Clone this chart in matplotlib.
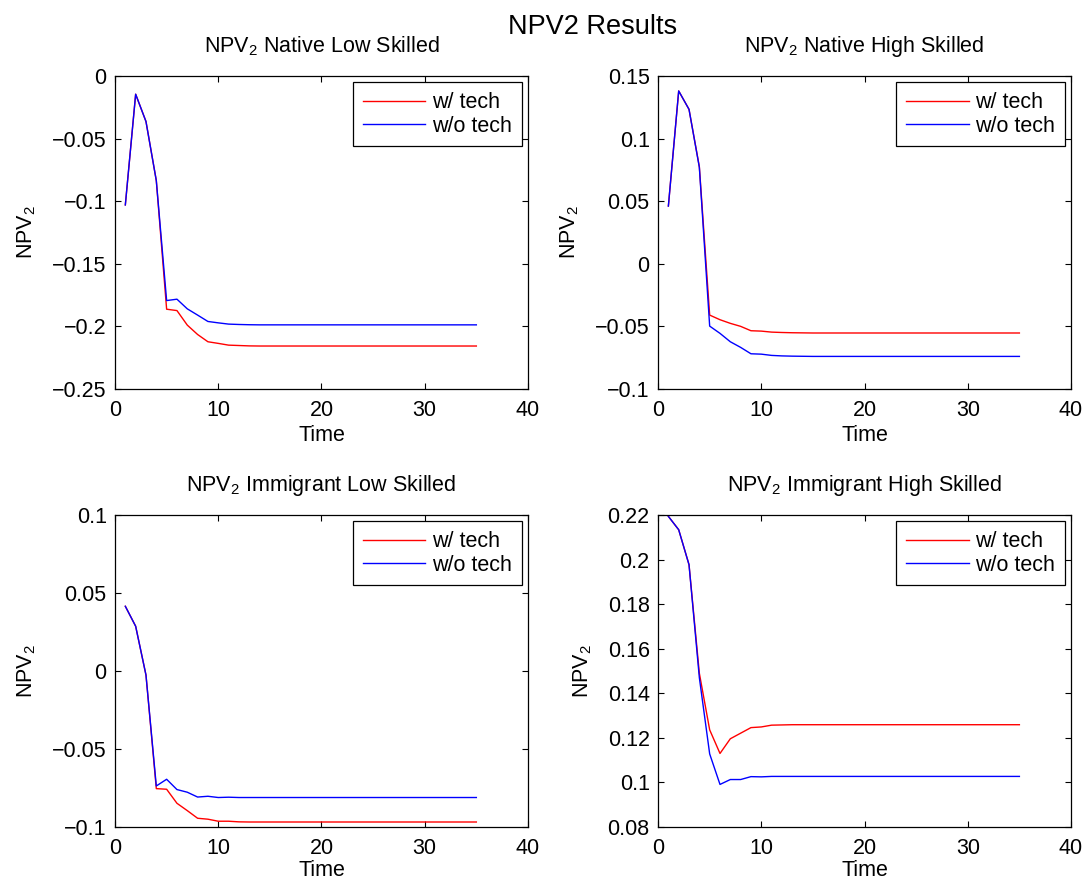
from matplotlib import pyplot as plt
from matplotlib.ticker import FuncFormatter
import numpy as np

plt.rcParams['font.family'] = ['Liberation Sans', 'DejaVu Sans']
plt.rcParams['mathtext.fontset'] = 'custom'
plt.rcParams['mathtext.rm'] = 'Liberation Sans'

time = np.arange(1, 36)

# native low skilled
nls_tech = [-0.1030, -0.0146, -0.0364, -0.0836, -0.1863, -0.1874, -0.1990, -0.2065, -0.2123, -0.2136,
            -0.2150, -0.2153, -0.2156, -0.2157, -0.2157, -0.2157, -0.2157, -0.2157, -0.2157, -0.2157,
            -0.2157, -0.2157, -0.2157, -0.2157, -0.2157, -0.2157, -0.2157, -0.2157, -0.2157, -0.2157,
            -0.2157, -0.2157, -0.2157, -0.2157, -0.2157]
nls_notech = [-0.1030, -0.0146, -0.0364, -0.0836, -0.1794, -0.1783, -0.1860, -0.1910, -0.1961, -0.1972,
              -0.1982, -0.1985, -0.1987, -0.1988, -0.1988, -0.1988, -0.1988, -0.1988, -0.1988, -0.1988,
              -0.1988, -0.1988, -0.1988, -0.1988, -0.1988, -0.1988, -0.1988, -0.1988, -0.1988, -0.1988,
              -0.1988, -0.1988, -0.1988, -0.1988, -0.1988]

# native high skilled
nhs_tech = [0.0461, 0.1380, 0.1233, 0.0775, -0.0410, -0.0447, -0.0476, -0.0500, -0.0535, -0.0538,
            -0.0546, -0.0549, -0.0551, -0.0552, -0.0553, -0.0553, -0.0553, -0.0553, -0.0553, -0.0553,
            -0.0553, -0.0553, -0.0553, -0.0553, -0.0553, -0.0553, -0.0553, -0.0553, -0.0553, -0.0553,
            -0.0553, -0.0553, -0.0553, -0.0553, -0.0553]
nhs_notech = [0.0461, 0.1380, 0.1233, 0.0770, -0.0498, -0.0556, -0.0623, -0.0668, -0.0719, -0.0722,
              -0.0732, -0.0736, -0.0738, -0.0739, -0.0740, -0.0740, -0.0740, -0.0740, -0.0740, -0.0740,
              -0.0740, -0.0740, -0.0740, -0.0740, -0.0740, -0.0740, -0.0740, -0.0740, -0.0740, -0.0740,
              -0.0740, -0.0740, -0.0740, -0.0740, -0.0740]

# immigrant low skilled
ils_tech = [0.0415, 0.0287, -0.0026, -0.0754, -0.0758, -0.0848, -0.0895, -0.0944, -0.0950, -0.0963,
            -0.0963, -0.0967, -0.0968, -0.0968, -0.0968, -0.0968, -0.0968, -0.0968, -0.0968, -0.0968,
            -0.0968, -0.0968, -0.0968, -0.0968, -0.0968, -0.0968, -0.0968, -0.0968, -0.0968, -0.0968,
            -0.0968, -0.0968, -0.0968, -0.0968, -0.0968]
ils_notech = [0.0415, 0.0287, -0.0026, -0.0737, -0.0694, -0.0760, -0.0777, -0.0808, -0.0803, -0.0811,
              -0.0809, -0.0811, -0.0811, -0.0811, -0.0811, -0.0811, -0.0811, -0.0811, -0.0811, -0.0811,
              -0.0811, -0.0811, -0.0811, -0.0811, -0.0811, -0.0811, -0.0811, -0.0811, -0.0811, -0.0811,
              -0.0811, -0.0811, -0.0811, -0.0811, -0.0811]

# immigrant high skilled
ihs_tech = [0.2194, 0.2134, 0.1977, 0.1490, 0.1236, 0.1130, 0.1196, 0.1221, 0.1246, 0.1249,
            0.1257, 0.1258, 0.1259, 0.1259, 0.1259, 0.1259, 0.1259, 0.1259, 0.1259, 0.1259,
            0.1259, 0.1259, 0.1259, 0.1259, 0.1259, 0.1259, 0.1259, 0.1259, 0.1259, 0.1259,
            0.1259, 0.1259, 0.1259, 0.1259, 0.1259]
ihs_notech = [0.2194, 0.2134, 0.1977, 0.1470, 0.1128, 0.0991, 0.1013, 0.1013, 0.1026, 0.1025,
              0.1027, 0.1027, 0.1027, 0.1027, 0.1027, 0.1027, 0.1027, 0.1027, 0.1027, 0.1027,
              0.1027, 0.1027, 0.1027, 0.1027, 0.1027, 0.1027, 0.1027, 0.1027, 0.1027, 0.1027,
              0.1027, 0.1027, 0.1027, 0.1027, 0.1027]

titles = ['Native Low Skilled', 'Native High Skilled', 'Immigrant Low Skilled', 'Immigrant High Skilled']
series = [(nls_tech, nls_notech), (nhs_tech, nhs_notech), (ils_tech, ils_notech), (ihs_tech, ihs_notech)]
ylims = [(-0.25, 0), (-0.1, 0.15), (-0.1, 0.1), (0.08, 0.22)]
yticks = [np.arange(-0.25, 0.001, 0.05), np.arange(-0.1, 0.151, 0.05),
          np.arange(-0.1, 0.101, 0.05), np.arange(0.08, 0.2201, 0.02)]
positions = [[0.106, 0.5585, 0.3806, 0.3553], [0.6065, 0.5585, 0.3806, 0.3553],
             [0.106, 0.0613, 0.3806, 0.3541], [0.6065, 0.0613, 0.3806, 0.3541]]

fs = 15.5


def tick_fmt(v, p):
    v = round(v, 4)
    if abs(v) < 1e-9:
        return '0'
    return ('%g' % v).replace('-', '\u2212')


fig = plt.figure(figsize=(10.85, 8.81), dpi=100)

for i in range(4):
    ax = fig.add_axes(positions[i])
    tech, notech = series[i]
    ax.plot(time, tech, color='red', lw=1.0, label='w/ tech')
    ax.plot(time, notech, color='blue', lw=1.0, label='w/o tech')
    ax.set_xlim(0, 40)
    ax.set_ylim(*ylims[i])
    ax.set_xticks([0, 10, 20, 30, 40])
    ax.set_yticks(yticks[i])
    ax.yaxis.set_major_formatter(FuncFormatter(tick_fmt))
    ax.tick_params(direction='in', top=True, right=True, length=4, width=0.8, labelsize=fs)
    ax.tick_params(axis='x', pad=8)
    ax.tick_params(axis='y', pad=6)
    for s in ax.spines.values():
        s.set_linewidth(0.9)
    ax.set_title(r'NPV$_\mathrm{2}$ ' + titles[i], fontsize=fs, pad=17)
    # bottom row sits close to the figure edge
    ax.set_xlabel('Time', fontsize=fs, labelpad=3 if i < 2 else 1)
    ax.set_ylabel(r'NPV$_\mathrm{2}$', fontsize=fs, labelpad=10)
    leg = ax.legend(loc='upper right', fontsize=fs, handlelength=2.9, handletextpad=0.3,
                    borderpad=0.45, labelspacing=0.12, borderaxespad=0.3, fancybox=False,
                    framealpha=1)
    leg.get_frame().set_edgecolor('black')
    leg.get_frame().set_linewidth(0.9)

fig.text(0.5465, 0.969, 'NPV2 Results', fontsize=19.5, ha='center', va='center')

plt.savefig('out.png', dpi=100)
